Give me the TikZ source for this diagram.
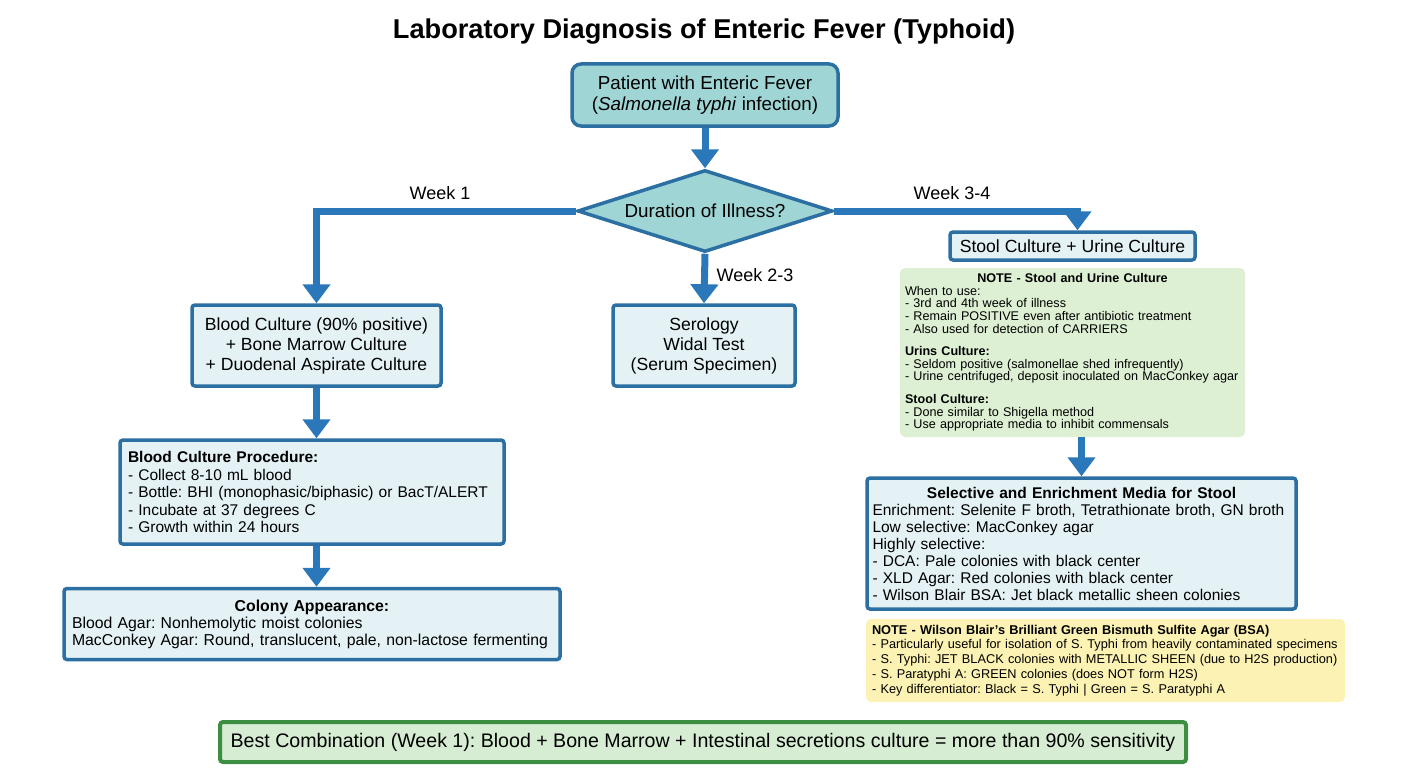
\documentclass[tikz,border=0pt]{standalone}
\usepackage{fontspec}
\setmainfont{Liberation Sans}
\usetikzlibrary{arrows.meta,shapes.geometric}
\definecolor{edgeblue}{HTML}{2C6FA2}
\definecolor{flowblue}{HTML}{2A78BA}
\definecolor{tealfill}{HTML}{9FD5D4}
\definecolor{boxfill}{HTML}{E4F2F5}
\definecolor{notegreen}{HTML}{DDF0D3}
\definecolor{noteyellow}{HTML}{FCF2B3}
\definecolor{sumfill}{HTML}{D6EDD3}
\definecolor{sumedge}{HTML}{3E8E41}
\frenchspacing
\newcommand\setfs[2]{\fontsize{#1}{#2}\selectfont}
\newcommand\midline[1]{\hbox to\hsize{\hfil\textbf{#1}\hfil}}
\begin{document}
\begin{tikzpicture}[x=1pt,y=-1pt,
  keybox/.style={draw=edgeblue, line width=3.5pt, fill=boxfill, rounded corners=3pt, inner sep=0pt},
  notebox/.style={rounded corners=5pt, inner sep=0pt, align=left},
  flow/.style={draw=flowblue, line width=7pt, -{Triangle[length=19pt,width=27pt]}},
  weeklabel/.style={font=\setfs{18}{21}}]
\useasboundingbox (0,0) rectangle (1408,768);

% title
\node[font=\bfseries\setfs{27.2}{31}] (title) at (704,32) {Laboratory Diagnosis of Enteric Fever (Typhoid)};

% start and decision
\node[keybox, fill=tealfill, rounded corners=9pt, minimum width=266, minimum height=62,
  align=center, font=\setfs{18.8}{21}] (patient) at (705,95)
  {Patient with Enteric Fever\\(\textit{Salmonella typhi} infection)};
\node[shape=diamond, draw=edgeblue, line width=3.5pt, fill=tealfill, aspect=3.1,
  inner sep=0pt, minimum width=255, minimum height=82, font=\setfs{18.8}{20}] (dur) at (705,211)
  {Duration of Illness?};

% week branches
\node[keybox, minimum width=249, minimum height=81, align=center, font=\setfs{17.6}{20}]
  (blood) at (316.5,345.5)
  {Blood Culture (90\% positive)\\+ Bone Marrow Culture\\+ Duodenal Aspirate Culture};
\node[keybox, minimum width=182, minimum height=81, align=center, font=\setfs{17.6}{20}]
  (sero) at (704,345.5) {Serology\\Widal Test\\(Serum Specimen)};
\node[keybox, minimum width=245, minimum height=28, font=\setfs{17.6}{20}]
  (stool) at (1072.5,246) {Stool Culture + Urine Culture};

% stool / urine note
\node[notebox, fill=notegreen, minimum width=345, minimum height=169, text width=335,
  font=\setfs{12.6}{12.6}] (gnote) at (1072.5,352.5)
  {\midline{NOTE - Stool and Urine Culture}\\
   When to use:\\
   - 3rd and 4th week of illness\\
   - Remain POSITIVE even after antibiotic treatment\\
   - Also used for detection of CARRIERS\\[10pt]
   \textbf{Urins Culture:}\\
   - Seldom positive (salmonellae shed infrequently)\\
   - Urine centrifuged, deposit inoculated on MacConkey agar\\[10pt]
   \textbf{Stool Culture:}\\
   - Done similar to Shigella method\\
   - Use appropriate media to inhibit commensals};

\node[keybox, minimum width=429, minimum height=131, text width=418, align=left,
  font=\setfs{15.5}{17}] (sel) at (1081.5,543.5)
  {\midline{Selective and Enrichment Media for Stool}\\
   Enrichment: Selenite F broth, Tetrathionate broth, GN broth\\
   Low selective: MacConkey agar\\
   Highly selective:\\
   - DCA: Pale colonies with black center\\
   - XLD Agar: Red colonies with black center\\
   - Wilson Blair BSA: Jet black metallic sheen colonies};

\node[notebox, fill=noteyellow, minimum width=479, minimum height=83, text width=467,
  font=\setfs{12.75}{14.8}] (ynote) at (1105.5,660.5)
  {\textbf{NOTE - Wilson Blair's Brilliant Green Bismuth Sulfite Agar (BSA)}\\
   - Particularly useful for isolation of S. Typhi from heavily contaminated specimens\\
   - S. Typhi: JET BLACK colonies with METALLIC SHEEN (due to H2S production)\\
   - S. Paratyphi A: GREEN colonies (does NOT form H2S)\\
   - Key differentiator: Black = S. Typhi | Green = S. Paratyphi A};

% blood culture work-up
\node[keybox, minimum width=384, minimum height=104, text width=368, align=left,
  font=\setfs{15.5}{17.5}] (proc) at (312,492)
  {\textbf{Blood Culture Procedure:}\\
   - Collect 8-10 mL blood\\
   - Bottle: BHI (monophasic/biphasic) or BacT/ALERT\\
   - Incubate at 37 degrees C\\
   - Growth within 24 hours};
\node[keybox, minimum width=496, minimum height=71, text width=480, align=left,
  font=\setfs{15.8}{17}] (colony) at (312,624)
  {\midline{Colony Appearance:}\\
   Blood Agar: Nonhemolytic moist colonies\\
   MacConkey Agar: Round, translucent, pale, non-lactose fermenting};

% summary
\node[draw=sumedge, line width=4pt, fill=sumfill, rounded corners=3pt, inner sep=0pt,
  minimum width=966, minimum height=40, font=\setfs{19.6}{22}] (best) at (703,742)
  {Best Combination (Week 1): Blood + Bone Marrow + Intestinal secretions culture = more than 90\% sensitivity};

% connectors
\draw[flow] (patient.south) -- (dur.north);
\draw[flow] (dur.west) -| (blood.north);
\draw[flow] (dur.south) -- (sero.north);
\draw[flow] (dur.east) -| ([xshift=5pt]stool.north);
\draw[flow] (gnote.south -| sel.north) -- (sel.north);
\draw[flow] (blood.south) -- (blood.south |- proc.north);
\draw[flow] (proc.south -| blood.south) -- (blood.south |- colony.north);

% branch labels
\node[weeklabel] (w1) at (440,193) {Week 1};
\node[weeklabel] (w23) at (755,275) {Week 2-3};
\node[weeklabel] (w34) at (952,193) {Week 3-4};
\end{tikzpicture}
\end{document}
